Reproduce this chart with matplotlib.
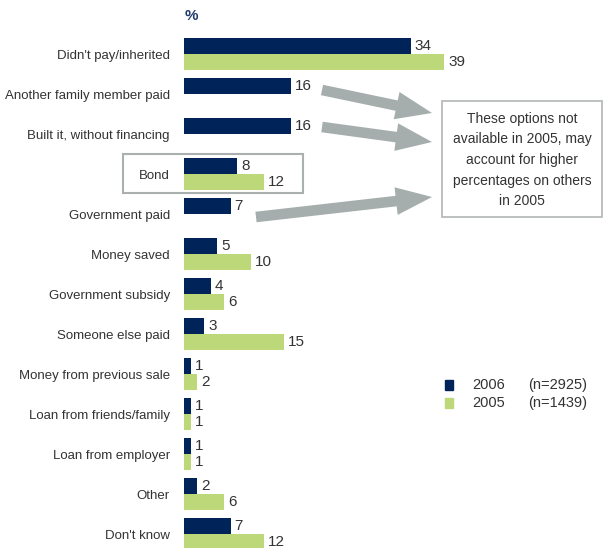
import numpy as np
import matplotlib.pyplot as plt
from matplotlib.patches import Rectangle

plt.rcParams['font.family'] = ['Liberation Sans', 'DejaVu Sans']

categories = ["Didn't pay/inherited", "Another family member paid", "Built it, without financing",
              "Bond", "Government paid", "Money saved", "Government subsidy", "Someone else paid",
              "Money from previous sale", "Loan from friends/family", "Loan from employer",
              "Other", "Don't know"]
v2006 = [34, 16, 16, 8, 7, 5, 4, 3, 1, 1, 1, 2, 7]
v2005 = [39, None, None, 12, None, 10, 6, 15, 2, 1, 1, 6, 12]

NAVY = '#00245a'
GREEN = '#bcd878'
GREY_TXT = '#333333'
ARROW = '#a5aeac'

fig = plt.figure(figsize=(6.03, 5.48), dpi=100)
ax = fig.add_axes([184 / 603, 0, 419 / 603, 1])
ax.set_xlim(0, 419 / 6.67)
ax.set_ylim((548 - 54) / 40, -54 / 40)

h = 0.4
y = np.arange(len(categories))
ax.barh(y - h / 2, v2006, height=h, color=NAVY)
for i, v in enumerate(v2006):
    ax.text(v + 0.6, i - h / 2, str(v), va='center', ha='left', fontsize=11, color=GREY_TXT)
for i, v in enumerate(v2005):
    if v is None:
        continue
    ax.barh(i + h / 2, v, height=h, color=GREEN)
    ax.text(v + 0.6, i + h / 2, str(v), va='center', ha='left', fontsize=11, color=GREY_TXT)

# category labels, a touch below the centre of each bar pair
for i, c in enumerate(categories):
    ax.text(-2.1, i + 0.06, c, ha='right', va='center', fontsize=9.5, color=GREY_TXT)
ax.set_yticks([])
ax.set_xticks([])
for s in ax.spines.values():
    s.set_visible(False)

# box around Bond
ax.add_patch(Rectangle(((123 - 184) / 6.67, 2.5), 180 / 6.67, 0.975, fill=False,
                       ec='#aab0b0', lw=1.5, clip_on=False))

fig.text(185 / 603, 1 - 16 / 548, '%', fontsize=11, fontweight='bold', color='#1f3c6e',
         ha='left', va='center')

# note box and arrows
fig.text(522 / 603, 1 - 160 / 548,
         'These options not\navailable in 2005, may\naccount for higher\npercentages on others\nin 2005',
         ha='center', va='center', fontsize=10, color=GREY_TXT, linespacing=1.6)
fig.add_artist(Rectangle((442 / 603, 1 - 217 / 548), 160 / 603, 116 / 548, fill=False,
                         ec='#b0b5b5', lw=1.2, transform=fig.transFigure))

arrows = [((322, 90), (432, 113)), ((322, 127), (432, 142)), ((256, 217), (432, 197))]
for (x0, y0), (x1, y1) in arrows:
    ax.annotate('', xy=(x1, 548 - y1), xytext=(x0, 548 - y0), xycoords='figure pixels',
                textcoords='figure pixels',
                arrowprops=dict(arrowstyle='simple,head_length=1.3,head_width=1.0,tail_width=0.38',
                                mutation_scale=20, fc=ARROW, ec='none', shrinkA=0, shrinkB=0))

# legend
for yy, col, yr, n in [(385, NAVY, '2006', '(n=2925)'), (403, GREEN, '2005', '(n=1439)')]:
    fig.add_artist(Rectangle((445 / 603, 1 - (yy + 5) / 548), 8 / 603, 10 / 548, color=col,
                             transform=fig.transFigure))
    fig.text(472 / 603, 1 - yy / 548, yr, fontsize=10.5, color=GREY_TXT, va='center')
    fig.text(528 / 603, 1 - yy / 548, n, fontsize=10.5, color=GREY_TXT, va='center')

fig.savefig('out.png', dpi=100)
